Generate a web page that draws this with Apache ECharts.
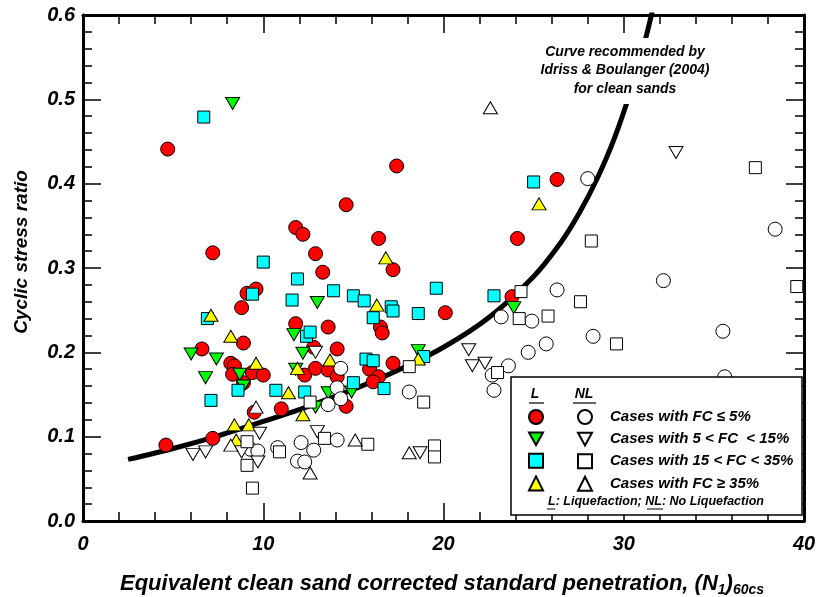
<!DOCTYPE html>
<html>
<head>
<meta charset="utf-8">
<script src="https://cdn.jsdelivr.net/npm/echarts@6/dist/echarts.min.js"></script>
<style>
  html, body { margin: 0; padding: 0; background: #fff; }
  #chart { width: 822px; height: 597px; }
</style>
</head>
<body>
<div id="chart"></div>
<script>
// points: [N1_60cs, CSR]
var liqFC5 = [[4.7,0.441],[7.2,0.318],[11.8,0.348],[12.2,0.340],[12.9,0.317],[13.3,0.295],[9.1,0.270],[9.6,0.275],
    [8.8,0.253],[11.8,0.234],[13.6,0.230],[8.9,0.211],[6.6,0.204],[12.8,0.206],[14.1,0.204],[8.2,0.187],[8.4,0.184],
    [8.3,0.174],[9.4,0.176],[10.0,0.173],[8.9,0.164],[12.3,0.173],[12.9,0.181],[13.6,0.179],[14.1,0.171],[11.0,0.133],
    [9.5,0.129],[14.6,0.136],[4.6,0.090],[7.2,0.098],[17.4,0.421],[14.6,0.375],[16.4,0.335],[17.2,0.298],[20.1,0.247],
    [16.5,0.230],[16.6,0.223],[17.2,0.187],[15.9,0.180],[16.4,0.171],[16.1,0.165],[23.8,0.266],[26.3,0.405],[24.1,0.335]];
var liqFC15 = [[8.3,0.495],[6.0,0.198],[7.4,0.192],[6.8,0.170],[11.7,0.221],[12.2,0.199],[11.8,0.180],[8.7,0.174],
    [8.9,0.160],[13.0,0.259],[13.6,0.152],[14.9,0.153],[12.9,0.135],[18.6,0.202],[23.9,0.253]];
var liqFC35 = [[6.7,0.479],[10.0,0.307],[11.9,0.287],[9.4,0.269],[11.6,0.262],[6.9,0.240],[12.4,0.219],[12.6,0.224],
    [8.6,0.155],[7.1,0.143],[10.7,0.155],[12.3,0.153],[15.0,0.164],[13.9,0.273],[15.0,0.267],[15.6,0.261],[17.1,0.254],
    [17.2,0.249],[16.1,0.241],[18.6,0.246],[19.6,0.276],[15.7,0.192],[16.1,0.190],[16.7,0.157],[18.9,0.195],[22.8,0.267],
    [25.0,0.402]];
var liqFCgt35 = [[7.1,0.244],[8.2,0.219],[9.6,0.187],[11.9,0.181],[13.7,0.191],[11.4,0.152],[12.2,0.126],[8.4,0.114],
    [9.2,0.114],[8.5,0.096],[16.3,0.256],[16.8,0.312],[18.6,0.192],[25.3,0.376]];

var noLiqFC5 = [[14.3,0.181],[14.1,0.158],[14.3,0.145],[13.6,0.138],[9.3,0.085],[9.7,0.083],[10.8,0.087],[12.1,0.093],
    [12.8,0.084],[11.9,0.071],[12.3,0.070],[14.1,0.096],[18.1,0.153],[23.6,0.184],[22.7,0.173],[22.8,0.155],[24.7,0.200],
    [25.7,0.210],[23.2,0.242],[24.9,0.237],[26.3,0.274],[28.3,0.219],[28.0,0.406],[32.2,0.285],[38.4,0.346],[35.5,0.225],
    [35.6,0.171]];
var noLiqFC15 = [[12.9,0.200],[9.8,0.104],[8.8,0.082],[6.1,0.079],[6.8,0.082],[9.7,0.070],[13.0,0.106],[18.7,0.081],
    [21.4,0.203],[21.6,0.184],[22.3,0.187],[32.9,0.437]];
var noLiqFC35 = [[12.6,0.141],[9.1,0.094],[10.9,0.082],[9.1,0.066],[9.4,0.039],[13.4,0.098],[15.8,0.091],[19.5,0.089],
    [19.5,0.076],[18.1,0.183],[18.9,0.141],[23.0,0.176],[24.2,0.240],[25.8,0.243],[24.3,0.272],[27.6,0.260],[28.2,0.332],
    [29.6,0.210],[37.3,0.419],[39.6,0.278]];
var noLiqFCgt35 = [[9.6,0.135],[8.2,0.090],[12.6,0.057],[15.1,0.096],[18.1,0.081],[22.6,0.490]];

// Idriss & Boulanger (2004) clean sand curve
var curveN   = [2.5, 5, 7.5, 10, 12.5, 15, 17.5, 20, 22.5, 25, 26.5, 27.5, 28.5, 29.5, 30.5, 31.2, 31.7];
var curveCSR = [0.073, 0.086, 0.101, 0.118, 0.136, 0.156, 0.179, 0.206, 0.241, 0.290, 0.330, 0.364, 0.405, 0.455, 0.518, 0.571, 0.615];

var xTicks = [0, 10, 20, 30, 40];
var yTicks = [0.0, 0.1, 0.2, 0.3, 0.4, 0.5, 0.6];

var legendText = ['Cases with FC \u2264 5%', 'Cases with 5 < FC  < 15%', 'Cases with 15 < FC < 35%', 'Cases with FC \u2265 35%'];

var FONT = '"Liberation Sans", Arial, sans-serif';
var downTri = 'path://M0,0L10,0L5,9Z';

function scatter(name, data, symbol, size, fill, z) {
    return {
        name: name,
        type: 'scatter',
        data: data,
        symbol: symbol,
        symbolSize: size,
        itemStyle: { color: fill, borderColor: '#000', borderWidth: 1, opacity: 1 },
        emphasis: { disabled: true },
        z: z || 2
    };
}

var curve = curveN.map(function(n, i) { return [n, curveCSR[i]]; });

var series = [
    {
        name: 'curve',
        type: 'line',
        data: curve,
        smooth: 0.3,
        showSymbol: false,
        lineStyle: { color: '#000', width: 5 },
        clip: true,
        z: 1
    },
    scatter('liq5', liqFC5, 'circle', 14, '#ff0000'),
    scatter('liq15', liqFC15, downTri, [14, 12], '#00ff00'),
    scatter('liq35', liqFC35, 'rect', 12, '#00ffff'),
    scatter('liqgt35', liqFCgt35, 'triangle', [14, 12], '#ffff00'),
    // NL series carry the row text shown in the legend
    scatter(legendText[0], noLiqFC5, 'circle', 14, '#fff', 3),
    scatter(legendText[1], noLiqFC15, downTri, [14, 12], '#fff', 3),
    scatter(legendText[2], noLiqFC35, 'rect', 12, '#fff', 3),
    scatter(legendText[3], noLiqFCgt35, 'triangle', [14, 12], '#fff', 3)
];

var labelStyle = { fontFamily: FONT, fontWeight: 'bold', fontStyle: 'italic', fontSize: 20, color: '#000' };

function axisX(pos, showLabel) {
    return {
        type: 'value', position: pos, min: 0, max: 40, interval: 10,
        axisLine: { show: true, onZero: false, lineStyle: { color: '#000', width: 3 } },
        axisTick: { show: true, inside: true, length: 18, lineStyle: { color: '#000', width: 1.5 } },
        minorTick: { show: true, splitNumber: 5, length: 9, lineStyle: { color: '#000', width: 1.5 } },
        splitLine: { show: false },
        axisLabel: Object.assign({ show: showLabel, margin: 13,
            formatter: function(v) { return xTicks.indexOf(v) >= 0 ? String(v) : ''; } }, labelStyle)
    };
}
function axisY(pos, showLabel) {
    return {
        type: 'value', position: pos, min: 0, max: 0.6, interval: 0.1,
        axisLine: { show: true, onZero: false, lineStyle: { color: '#000', width: 3 } },
        axisTick: { show: true, inside: true, length: 18, lineStyle: { color: '#000', width: 1.5 } },
        minorTick: { show: true, splitNumber: 5, length: 9, lineStyle: { color: '#000', width: 1.5 } },
        splitLine: { show: false },
        axisLabel: Object.assign({ show: showLabel, margin: 8,
            formatter: function(v) { return v.toFixed(1); } }, labelStyle)
    };
}

var txt = function(x, y, text, size, extra) {
    return Object.assign({
        type: 'text', x: x, y: y, z: 10,
        style: { text: text, fill: '#000', font: 'italic bold ' + size + 'px ' + FONT, align: 'center', verticalAlign: 'middle' }
    }, extra || {});
};

var legendFont = { fontFamily: FONT, fontWeight: 'bold', fontStyle: 'italic', fontSize: 15, color: '#000', lineHeight: 14 };

var option = {
    backgroundColor: '#fff',
    animation: false,
    grid: { left: 83, right: 18, top: 15, bottom: 76, containLabel: false },
    xAxis: [axisX('bottom', true), axisX('top', false)],
    yAxis: [axisY('left', true), axisY('right', false)],
    legend: [
        {
            data: ['liq5', 'liq15', 'liq35', 'liqgt35'],
            orient: 'vertical', left: 528, top: 409, padding: 0,
            itemWidth: 14, itemHeight: 14, itemGap: 6.6,
            formatter: function() { return ''; },
            textStyle: legendFont,
            selectedMode: false, z: 6
        },
        {
            data: legendText,
            orient: 'vertical', left: 577, top: 409, padding: 0,
            itemWidth: 14, itemHeight: 14, itemGap: 6.6,
            textStyle: Object.assign({ padding: [0, 0, 0, 13] }, legendFont),
            selectedMode: false, z: 6
        }
    ],
    graphic: [
        // white patch behind the annotation, the curve is interrupted there
        { type: 'rect', z: 4, shape: { x: 532, y: 38, width: 186, height: 66 }, style: { fill: '#fff' } },
        { type: 'rect', z: 5, shape: { x: 511, y: 377, width: 291, height: 138 },
          style: { fill: '#fff', stroke: '#000', lineWidth: 1.5 } },
        txt(535, 394, 'L', 14),
        { type: 'line', z: 10, shape: { x1: 529, y1: 403, x2: 544, y2: 403 }, style: { stroke: '#000', lineWidth: 1.2 } },
        txt(584, 394, 'NL', 14),
        { type: 'line', z: 10, shape: { x1: 573, y1: 403, x2: 596, y2: 403 }, style: { stroke: '#000', lineWidth: 1.2 } },
        txt(656, 502, 'L: Liquefaction; NL: No Liquefaction', 12.5),
        { type: 'line', z: 10, shape: { x1: 547, y1: 509, x2: 555, y2: 509 }, style: { stroke: '#000', lineWidth: 1 } },
        { type: 'line', z: 10, shape: { x1: 647, y1: 509, x2: 663, y2: 509 }, style: { stroke: '#000', lineWidth: 1 } },
        txt(625, 52, 'Curve recommended by', 14),
        txt(625, 70, 'Idriss & Boulanger (2004)', 14),
        txt(625, 89, 'for clean sands', 14),
        txt(22, 252, 'Cyclic stress ratio', 19, { rotation: Math.PI / 2 }),
        {
            type: 'text', x: 442, y: 585, z: 10,
            style: {
                text: '{m|Equivalent clean sand corrected standard penetration, (N}{s|1}{m|)}{s|60cs}',
                align: 'center', verticalAlign: 'middle',
                rich: {
                    m: { fontFamily: FONT, fontWeight: 'bold', fontStyle: 'italic', fontSize: 22, lineHeight: 24, verticalAlign: 'top' },
                    s: { fontFamily: FONT, fontWeight: 'bold', fontStyle: 'italic', fontSize: 14, lineHeight: 24, verticalAlign: 'bottom' }
                }
            }
        }
    ],
    series: series
};

var myChart = echarts.init(document.getElementById('chart'), null, { renderer: 'canvas' });
myChart.setOption(option);
</script>
</body>
</html>
